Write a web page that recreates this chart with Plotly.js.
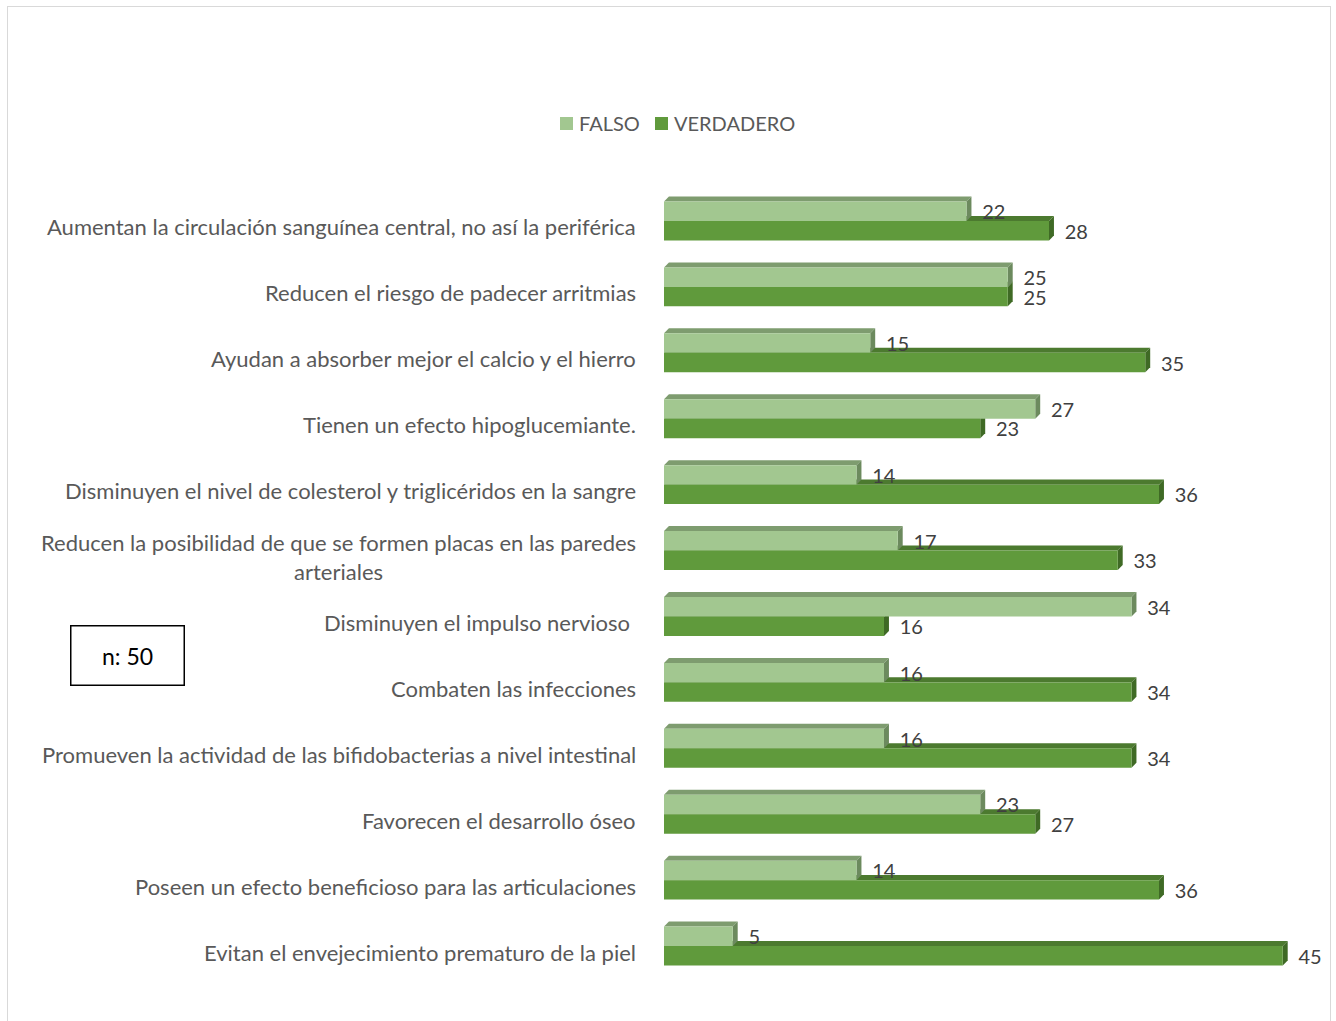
<!DOCTYPE html>
<html>
<head>
<meta charset="utf-8">
<script src="https://cdn.plot.ly/plotly-3.0.1.min.js"></script>
<style>
  html, body { margin: 0; padding: 0; background: #fff; }
  #wrap { position: relative; width: 1336px; height: 1021px; }
  #chart { position: absolute; left: 0; top: 0; width: 1336px; height: 1021px; }
  #frame { position: absolute; left: 7px; top: 6px; width: 1322px; height: 1030px;
           border: 1px solid #d9d9d9; pointer-events: none; }
</style>
</head>
<body>
<div id="wrap">
  <div id="chart"></div>
  <div id="frame"></div>
</div>
<script>
const categories = [
  "Aumentan la circulación sanguínea central, no así la periférica",
  "Reducen el riesgo de padecer arritmias",
  "Ayudan a absorber mejor el calcio y el hierro",
  "Tienen un efecto hipoglucemiante.",
  "Disminuyen el nivel de colesterol y triglicéridos en la sangre",
  "Reducen la posibilidad de que se formen placas en las paredes<br>arteriales",
  "Disminuyen el impulso nervioso\u00a0",
  "Combaten las infecciones",
  "Promueven la actividad de las bifidobacterias a nivel intestinal",
  "Favorecen el desarrollo óseo",
  "Poseen un efecto beneficioso para las articulaciones",
  "Evitan el envejecimiento prematuro de la piel"
];
const falso =      [22, 25, 15, 27, 14, 17, 34, 16, 16, 23, 14, 5];
const verdadero =  [28, 25, 35, 23, 36, 33, 16, 34, 34, 27, 36, 45];
const seriesNames = ["FALSO", "VERDADERO"];
const nLabel = "n: 50";

const idx = categories.map((_, i) => i);

const colF = "#a2c790", colFTop = "#7e9c6f", colFSide = "#6c8a5e";
const colV = "#609a3c", colVTop = "#4c7a2f", colVSide = "#3f6a25";

const bargap = 0.41;
const half = (1 - bargap) / 2;
const dx = 0.36, dy = 0.076;   // 3D depth in data units

const FONT = "Lato, 'Open Sans', sans-serif";
const labelFont = { family: FONT, size: 20, color: "#404040" };
const pad = "\u00a0\u00a0\u2009";

const traces = [
  {
    type: "bar", orientation: "h", name: seriesNames[0],
    x: falso, y: idx,
    marker: { color: colF, line: { width: 0 } },
    text: falso.map(v => pad + v), textposition: "outside", cliponaxis: false,
    constraintext: "none",
    textfont: labelFont, hoverinfo: "x+name", showlegend: false
  },
  {
    type: "bar", orientation: "h", name: seriesNames[1],
    x: verdadero, y: idx,
    marker: { color: colV, line: { width: 0 } },
    text: verdadero.map(v => pad + v), textposition: "outside", cliponaxis: false,
    constraintext: "none",
    textfont: labelFont, hoverinfo: "x+name", showlegend: false
  }
];

// 3D faces computed from the data
function faces(v, y0, y1, top, side) {
  return [
    { type: "path", xref: "x", yref: "y", layer: "below", line: { width: 0 }, fillcolor: top,
      path: `M0,${y0} L${dx},${y0 - dy} L${v + dx},${y0 - dy} L${v},${y0} Z` },
    { type: "path", xref: "x", yref: "y", layer: "below", line: { width: 0 }, fillcolor: side,
      path: `M${v},${y0} L${v + dx},${y0 - dy} L${v + dx},${y1 - dy} L${v},${y1} Z` }
  ];
}
const shapes = [];
idx.forEach(i => {
  shapes.push(...faces(verdadero[i], i, i + half, colVTop, colVSide));
});
idx.forEach(i => {
  shapes.push(...faces(falso[i], i - half, i, colFTop, colFSide));
});

const catFont = { family: FONT, size: 22, color: "#595959" };
const annotations = categories.map((c, i) => ({
  xref: "paper", yref: "y", x: 0, y: i, xshift: -26, yshift: -6,
  xanchor: "right", yanchor: "middle", align: "center",
  text: c, showarrow: false, font: catFont
}));
annotations.push({
  xref: "paper", yref: "paper", x: -0.8136, y: 0.4096,
  xanchor: "center", yanchor: "middle",
  text: nLabel, showarrow: false,
  font: { family: FONT, size: 23, color: "#000000" },
  bordercolor: "#000000", borderwidth: 1.5, borderpad: 0,
  width: 112, height: 58, bgcolor: "#ffffff"
});

// custom legend (symbols + names)
const W = 660, H = 791, L = 664, T = 188;
const px = x => (x - L) / W, py = y => (T + H - y) / H;
const legendItems = [
  { name: seriesNames[0], color: colF, x0: 560 },
  { name: seriesNames[1], color: colV, x0: 655 }
];
legendItems.forEach(it => {
  shapes.push({ type: "rect", xref: "paper", yref: "paper",
    x0: px(it.x0), x1: px(it.x0 + 13), y0: py(130), y1: py(117),
    fillcolor: it.color, line: { width: 0 } });
  annotations.push({ xref: "paper", yref: "paper", x: px(it.x0 + 17), y: py(123),
    xanchor: "left", yanchor: "middle", showarrow: false, text: it.name,
    font: { family: FONT, size: 20, color: "#595959" } });
});

const layout = {
  width: 1336, height: 1021,
  margin: { l: L, r: 1336 - L - W, t: T, b: 1021 - T - H },
  paper_bgcolor: "rgba(0,0,0,0)", plot_bgcolor: "rgba(0,0,0,0)",
  barmode: "group", bargap: bargap, bargroupgap: 0,
  xaxis: { range: [0, 48], visible: false, fixedrange: true },
  yaxis: { range: [11.5, -0.5], visible: false, fixedrange: true },
  showlegend: false,
  shapes: shapes,
  annotations: annotations
};

Plotly.newPlot("chart", traces, layout, { displayModeBar: false, staticPlot: true });
</script>
</body>
</html>
